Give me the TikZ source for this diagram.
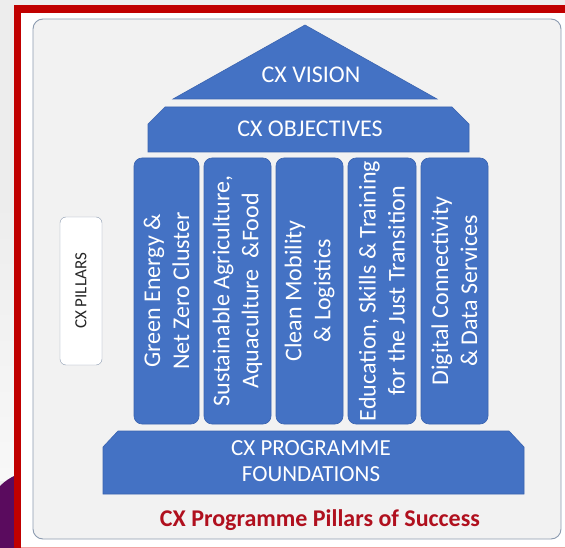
\documentclass[tikz,border=0pt]{standalone}
\usepackage{fontspec}
\setmainfont{Carlito}
\definecolor{cxblue}{HTML}{4472C4}
\definecolor{cxblueline}{HTML}{3A64B0}
\definecolor{cxred}{HTML}{C00000}
\definecolor{captionred}{HTML}{B0101E}
\definecolor{panelfill}{HTML}{F2F2F2}
\definecolor{panelline}{HTML}{8C9BB0}
\definecolor{purp}{HTML}{5A0B5E}
\definecolor{bggrey}{HTML}{EDEDED}
\definecolor{bglight}{HTML}{F8F8F8}
\definecolor{pinkline}{HTML}{F2A5A5}
\begin{document}
\begin{tikzpicture}[x=1pt,y=-1pt,
  blueshape/.style={fill=cxblue, draw=cxblueline, line width=0.6pt},
  pillarbox/.style={blueshape, rounded corners=8pt, rotate=90, minimum width=266pt, inner sep=0pt,
    text=white, font=\fontsize{24}{29}\selectfont, align=center},
  whitetext/.style={text=white, font=\fontsize{24}{29}\selectfont, align=center},
]
\useasboundingbox (0,0) rectangle (565,548);
% background outside the frame
\fill[bggrey] (0,0) rectangle (565,548);
\shade[top color=bggrey, bottom color=bglight] (0,200) rectangle (14,480);
\fill[purp] (0,486) .. controls (5,481) and (10,478) .. (14,476) -- (14,548) -- (0,548) -- cycle;
% red frame
\fill[white] (14,5) rectangle (565,548);
\fill[cxred] (14,5) rectangle (565,13);
\fill[cxred] (14,5) rectangle (21,548);
\draw[pinkline, line width=1.2pt] (21,547.4) -- (565,547.4);
% panel
\draw[panelline, fill=panelfill, line width=0.9pt, rounded corners=10pt] (33,19) rectangle (561,539);

% vision triangle
\fill[blueshape] (173,99) -- (305,25) -- (437,99) -- cycle;
\node[whitetext] (vision) at (311,75) {CX VISION};

% objectives
\fill[blueshape] (148,152) -- (148,124) -- (165,107) -- (452,107) -- (469,124) -- (469,152) -- cycle;
\node[whitetext] (objectives) at (310,129) {CX OBJECTIVES};

% pillars
\node[pillarbox, minimum height=65pt] (p1) at (166.5,291) {Green Energy \&\\Net Zero Cluster};
\node[pillarbox, minimum height=67pt] (p2) at (237.5,291) {Sustainable Agriculture,\\Aquaculture\ \ \&Food};
\node[pillarbox, minimum height=67pt] (p3) at (309.5,291) {Clean Mobility\\\& Logistics};
\node[pillarbox, minimum height=68pt] (p4) at (382,291) {Education, Skills \& Training\\for the Just Transition};
\node[pillarbox, minimum height=67pt] (p5) at (454.5,291) {Digital Connectivity\\\& Data Services};

% foundation
\fill[blueshape] (103,494) -- (103,447) -- (118,431) -- (509,431) -- (524,447) -- (524,494) -- cycle;
\node[whitetext, font=\fontsize{23}{26.5}\selectfont] (foundation) at (311,461) {CX PROGRAMME\\FOUNDATIONS};

% CX pillars label
\node[draw=panelline, fill=white, rounded corners=6pt, rotate=90, minimum width=148pt, minimum height=42pt,
  inner sep=0pt, font=\fontsize{17}{20}\selectfont, text=black!85] (pillarslabel) at (81,291) {CX PILLARS};

% caption
\node[text=captionred, font=\bfseries\fontsize{24}{29}\selectfont] (caption) at (320,520) {CX Programme Pillars of Success};
\end{tikzpicture}
\end{document}
